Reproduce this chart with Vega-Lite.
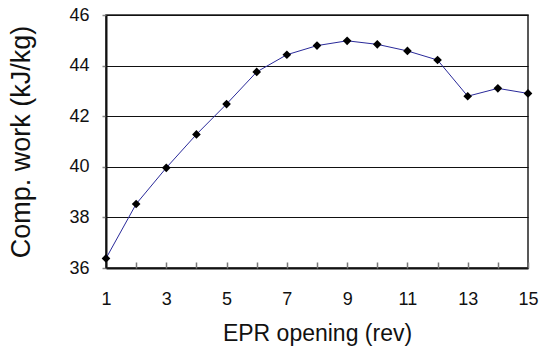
{
  "$schema": "https://vega.github.io/schema/vega-lite/v6.json",
  "width": 422,
  "height": 253,
  "autosize": "none",
  "padding": {"left": 106, "top": 15, "right": 19, "bottom": 83},
  "background": "white",
  "config": {
    "view": {"stroke": "#222222", "strokeWidth": 1.5},
    "font": "Liberation Sans"
  },
  "data": {
    "values": [
      {"x": 1, "y": 36.38},
      {"x": 2, "y": 38.53},
      {"x": 3, "y": 39.96},
      {"x": 4, "y": 41.28},
      {"x": 5, "y": 42.48},
      {"x": 6, "y": 43.75},
      {"x": 7, "y": 44.43},
      {"x": 8, "y": 44.79},
      {"x": 9, "y": 44.98},
      {"x": 10, "y": 44.84},
      {"x": 11, "y": 44.58},
      {"x": 12, "y": 44.22},
      {"x": 13, "y": 42.79},
      {"x": 14, "y": 43.1},
      {"x": 15, "y": 42.9}
    ]
  },
  "resolve": {"axis": {"x": "independent"}},
  "layer": [
    {
      "mark": {"type": "line", "color": "#2a2a9a", "strokeWidth": 1},
      "encoding": {
        "x": {
          "field": "x",
          "type": "quantitative",
          "scale": {"domain": [1, 15], "nice": false, "zero": false},
          "axis": {
            "values": [1,3,5,7,9,11,13,15],
            "grid": false,
            "ticks": false,
            "domainColor": "#111111",
            "domainWidth": 2,
            "labelPadding": 22,
            "labelFontSize": 18,
            "labelColor": "#111111",
            "labelFont": "Liberation Sans",
            "labelFlush": false,
            "title": "EPR opening (rev)",
            "titleFontSize": 23,
            "titleFontWeight": "normal",
            "titleColor": "#111111",
            "titleFont": "Liberation Sans",
            "titlePadding": 14
          }
        },
        "y": {
          "field": "y",
          "type": "quantitative",
          "scale": {"domain": [36, 46], "nice": false, "zero": false},
          "axis": {
            "values": [36, 38, 40, 42, 44, 46],
            "grid": true,
            "gridColor": "#111111",
            "gridWidth": 1,
            "gridOpacity": 1,
            "domainColor": "#111111",
            "domainWidth": 2,
            "tickColor": "#888888",
            "tickSize": 4,
            "tickWidth": 1.5,
            "labelPadding": 13,
            "labelFontSize": 18,
            "labelColor": "#111111",
            "labelFont": "Liberation Sans",
            "labelFlush": false,
            "title": "Comp. work (kJ/kg)",
            "titleFontSize": 27,
            "titleFontWeight": "normal",
            "titleColor": "#111111",
            "titleFont": "Liberation Sans",
            "titlePadding": 33
          }
        }
      }
    },
    {
      "mark": {"type": "point", "shape": "diamond", "filled": true, "color": "black", "opacity": 1, "size": 75},
      "encoding": {
        "x": {
          "field": "x",
          "type": "quantitative",
          "axis": {
            "orient": "top",
            "values": [1,2,3,4,5,6,7,8,9,10,11,12,13,14,15],
            "offset": -253,
            "domain": false,
            "labels": false,
            "grid": false,
            "ticks": true,
            "tickColor": "#777777",
            "tickSize": 6,
            "tickWidth": 1.5,
            "title": null
          }
        },
        "y": {"field": "y", "type": "quantitative"}
      }
    }
  ]
}
